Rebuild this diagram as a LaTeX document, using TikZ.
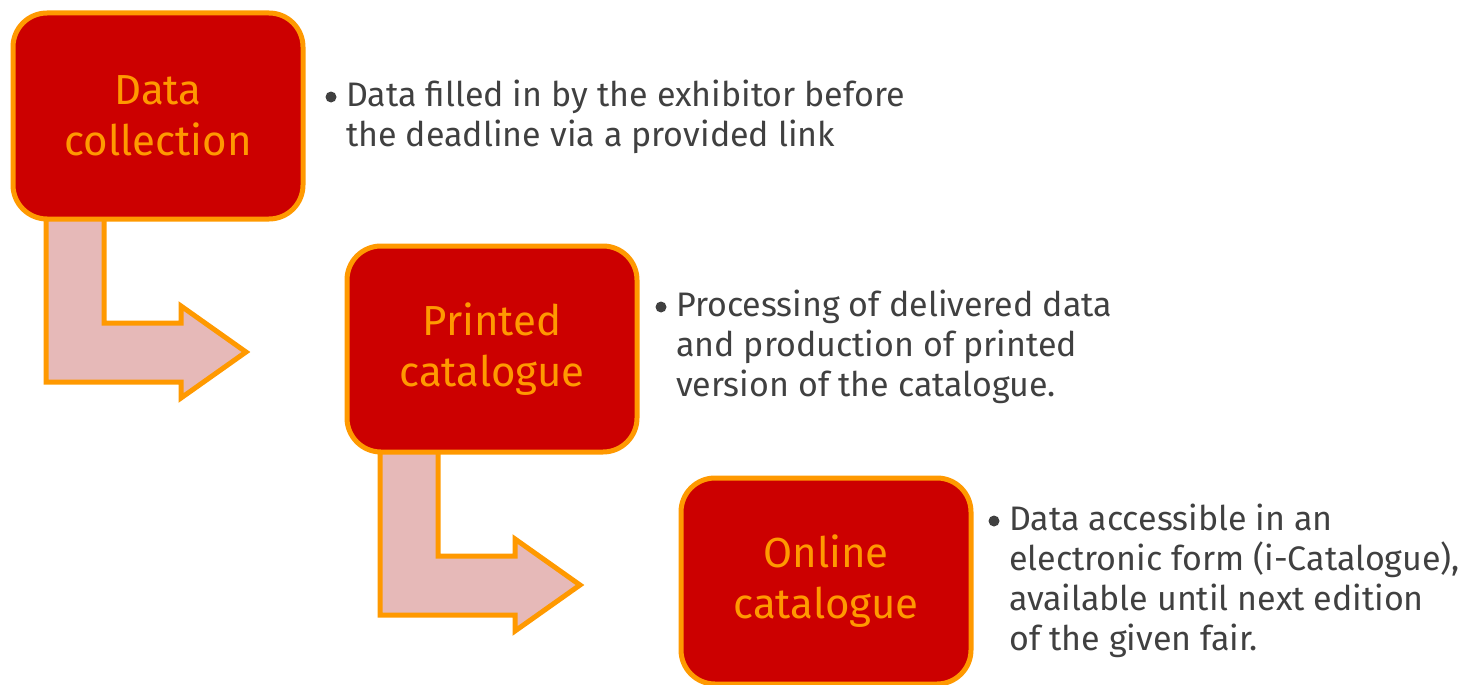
\documentclass[tikz,border=0pt]{standalone}
\usepackage{fontspec}
\setmainfont{Fira Sans}
\definecolor{boxred}{HTML}{CC0000}
\definecolor{boxorange}{HTML}{FF9900}
\definecolor{arrowpink}{HTML}{E6B9B8}
\definecolor{txtgray}{HTML}{404040}
\begin{document}
\begin{tikzpicture}[x=1pt,y=-1pt,
  stage/.style={draw=boxorange,fill=boxred,line width=5pt,rounded corners=34pt,
    minimum width=290pt,minimum height=206pt,align=center,text=boxorange,
    font=\fontsize{42}{51}\selectfont,inner sep=0pt},
  bentarrow/.style={draw=boxorange,fill=arrowpink,line width=5pt,line join=miter},
  desc/.style={anchor=north west,align=left,text=txtgray,inner sep=0pt,
    font=\fontsize{34}{40}\selectfont},
  dot/.style={circle,fill=txtgray,inner sep=0pt,minimum size=11pt}]
\useasboundingbox (0,0) rectangle (1462,685);
% arrows (behind boxes)
\draw[bentarrow] (46,219) -- (46,382) -- (181,382) -- (181,398) -- (246,352) -- (181,306) -- (181,323) -- (104,323) -- (104,219);
\draw[bentarrow] (380,452) -- (380,615) -- (515,615) -- (515,631) -- (580,585) -- (515,539) -- (515,556) -- (438,556) -- (438,452);
% boxes
\node[stage] (b1) at (158,116) {Data\\collection};
\node[stage] (b2) at (492,349) {Printed\\catalogue};
\node[stage] (b3) at (826,581) {Online\\catalogue};
% descriptions
\node[dot] (d1) at (331,97) {};
\node[desc] (t1) at (346,80) {Data filled in by the exhibitor before\\the deadline via a provided link};
\node[dot] (d2) at (661,307) {};
\node[desc] (t2) at (676,290) {Processing of delivered data\\and production of printed\\version of the catalogue.};
\node[dot] (d3) at (994,521) {};
\node[desc] (t3) at (1009,504) {Data accessible in an\\electronic form (i-Catalogue),\\available until next edition\\of the given fair.};
\end{tikzpicture}
\end{document}
